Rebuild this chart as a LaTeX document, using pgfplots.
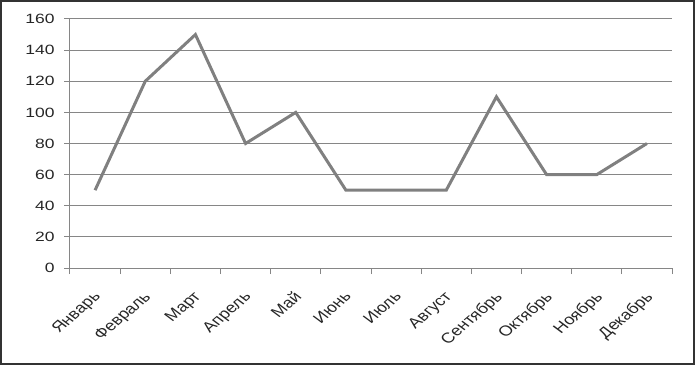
\documentclass[border=0pt]{standalone}
\usepackage{pgfplots}
\pgfplotsset{compat=1.18}
\usepackage{fontspec}
\setmainfont[FakeStretch=1.3]{Liberation Sans}
\newfontfamily\plainfont{Liberation Sans}
\definecolor{lin}{RGB}{128,128,128}
\definecolor{grd}{RGB}{134,134,134}
\begin{document}
\begin{tikzpicture}
\begin{axis}[
  at={(0,0)}, anchor=south west,
  scale only axis, width=602bp, height=249bp,
  xmin=0, xmax=12, ymin=0, ymax=160,
  ytick={0,20,...,160},
  xtick={0,...,12},
  x tick label as interval,
  xticklabels={Январь,Февраль,Март,Апрель,Май,Июнь,Июль,Август,Сентябрь,Октябрь,Ноябрь,Декабрь},
  axis lines*=left,
  axis line style={-, draw=grd, line width=1bp},
  tick style={draw=grd, line width=1bp},
  tick align=outside,
  major tick length=6bp,
  ymajorgrids,
  grid style={draw=grd, line width=1bp},
  /pgf/number format/assume math mode=true,
  yticklabel style={font=\fontsize{13.5}{14}\selectfont, text=black!85, xshift=-6bp},
  xticklabel style={font=\plainfont\fontsize{14.5}{14.5}\selectfont, text=black!85, xshift=-3bp, yshift=-15bp, xscale=1.25, rotate=47, anchor=north east, inner sep=1bp},
  clip=false,
]
\addplot[color=lin, line width=3bp] coordinates {
  (0.5,50) (1.5,120) (2.5,150) (3.5,80) (4.5,100) (5.5,50)
  (6.5,50) (7.5,50) (8.5,110) (9.5,60) (10.5,60) (11.5,80)
};
\end{axis}
\draw[line width=1.5bp, black!80] (-69bp,-96bp) rectangle (624bp,267bp);
\pgfresetboundingbox
\useasboundingbox (-70bp,-97bp) rectangle (625bp,268bp);
\end{tikzpicture}
\end{document}
